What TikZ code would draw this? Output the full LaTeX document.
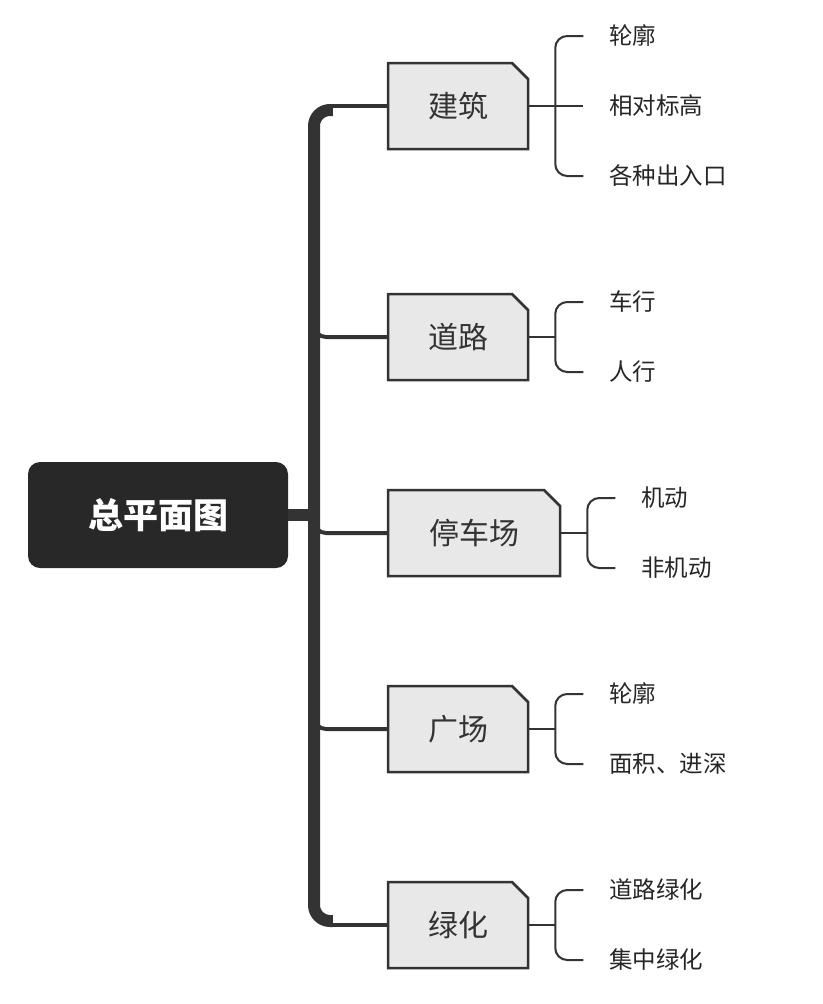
\documentclass[tikz,border=0pt]{standalone}
\usepackage{fontspec}
\newfontfamily\cjk{Noto Sans CJK SC}
\usepackage{xcolor}
\definecolor{rootdark}{RGB}{40, 40, 40}
\definecolor{linegray}{RGB}{51, 51, 51}
\definecolor{boxgray}{RGB}{232, 232, 232}
\usepackage{tikz}
\usetikzlibrary{shapes.misc, positioning, calc}

\begin{document}
\begin{tikzpicture}[x=1pt, y=-1pt,
        root/.style={rectangle, fill=rootdark, rounded corners=12pt, minimum width=260pt, minimum height=106pt, text=white, font=\cjk\bfseries\fontsize{35}{40}\selectfont},
        topic/.style={chamfered rectangle, chamfered rectangle corners=north east, chamfered rectangle xsep=8pt, chamfered rectangle ysep=8pt, draw=linegray, line width=2.5pt, fill=boxgray, minimum width=140pt, minimum height=86pt, inner sep=0pt, text=linegray, font=\cjk\fontsize{30}{36}\selectfont},
        leaf/.style={anchor=west, inner sep=0pt, text=black!85, font=\cjk\fontsize{23.5}{28}\selectfont},
        trunk/.style={draw=linegray, line width=12pt},
        branch/.style={draw=linegray, line width=4pt},
        twig/.style={draw=linegray, line width=2pt, rounded corners=12pt}]

        \useasboundingbox (0,0) rectangle (822,1004);

        \node [root] (plan) at (158,515) {总平面图};
        \coordinate (hub) at (314,515);

        \node [topic] (building) at (458,106) {建筑};
        \node [topic] (road) at (458,337) {道路};
        \node [topic, minimum width=172pt] (parking) at (474,533) {停车场};
        \node [topic] (square) at (458,729) {广场};
        \node [topic] (green) at (458,925) {绿化};

        % trunk
        \draw [trunk] (plan.east) -- (hub);
        \draw [trunk, rounded corners=16pt] ($(building.west)+(-54,4)$) -| (hub) |- ($(green.west)+(-54,-4)$);
        \draw [branch] ($(hub |- building.west)+(16,0)$) -- (building.west);
        \draw [branch, rounded corners=12pt] ($(hub |- road.west)+(0,-17)$) |- (road.west);
        \draw [branch, rounded corners=12pt] ($(hub |- parking.west)+(0,-17)$) |- (parking.west);
        \draw [branch, rounded corners=12pt] ($(hub |- square.west)+(0,-17)$) |- (square.west);
        \draw [branch] ($(hub |- green.west)+(16,0)$) -- (green.west);

        % leaves
        \node [leaf] (contour) at ($(building.east)+(80,-70)$) {轮廓};
        \node [leaf] (level) at ($(building.east)+(80,0)$) {相对标高};
        \node [leaf] (entrance) at ($(building.east)+(80,70)$) {各种出入口};
        \coordinate (buildingfork) at ($(building.east)+(26,0)$);
        \draw [twig] ([xshift=-26pt]contour.west) -| (buildingfork) |- ([xshift=-26pt]entrance.west);
        \draw [twig] (building.east) -- ([xshift=-26pt]level.west);

        \node [leaf] (carway) at ($(road.east)+(80,-35)$) {车行};
        \node [leaf] (footway) at ($(road.east)+(80,35)$) {人行};
        \coordinate (roadfork) at ($(road.east)+(26,0)$);
        \draw [twig] ([xshift=-26pt]carway.west) -| (roadfork) |- ([xshift=-26pt]footway.west);
        \draw [twig] (road.east) -- (roadfork);

        \node [leaf] (motor) at ($(parking.east)+(80,-35)$) {机动};
        \node [leaf] (nonmotor) at ($(parking.east)+(80,35)$) {非机动};
        \coordinate (parkingfork) at ($(parking.east)+(26,0)$);
        \draw [twig] ([xshift=-26pt]motor.west) -| (parkingfork) |- ([xshift=-26pt]nonmotor.west);
        \draw [twig] (parking.east) -- (parkingfork);

        \node [leaf] (sqcontour) at ($(square.east)+(80,-35)$) {轮廓};
        \node [leaf] (sqarea) at ($(square.east)+(80,35)$) {面积、进深};
        \coordinate (squarefork) at ($(square.east)+(26,0)$);
        \draw [twig] ([xshift=-26pt]sqcontour.west) -| (squarefork) |- ([xshift=-26pt]sqarea.west);
        \draw [twig] (square.east) -- (squarefork);

        \node [leaf] (roadgreen) at ($(green.east)+(80,-35)$) {道路绿化};
        \node [leaf] (centralgreen) at ($(green.east)+(80,35)$) {集中绿化};
        \coordinate (greenfork) at ($(green.east)+(26,0)$);
        \draw [twig] ([xshift=-26pt]roadgreen.west) -| (greenfork) |- ([xshift=-26pt]centralgreen.west);
        \draw [twig] (green.east) -- (greenfork);
    \end{tikzpicture}
\end{document}
